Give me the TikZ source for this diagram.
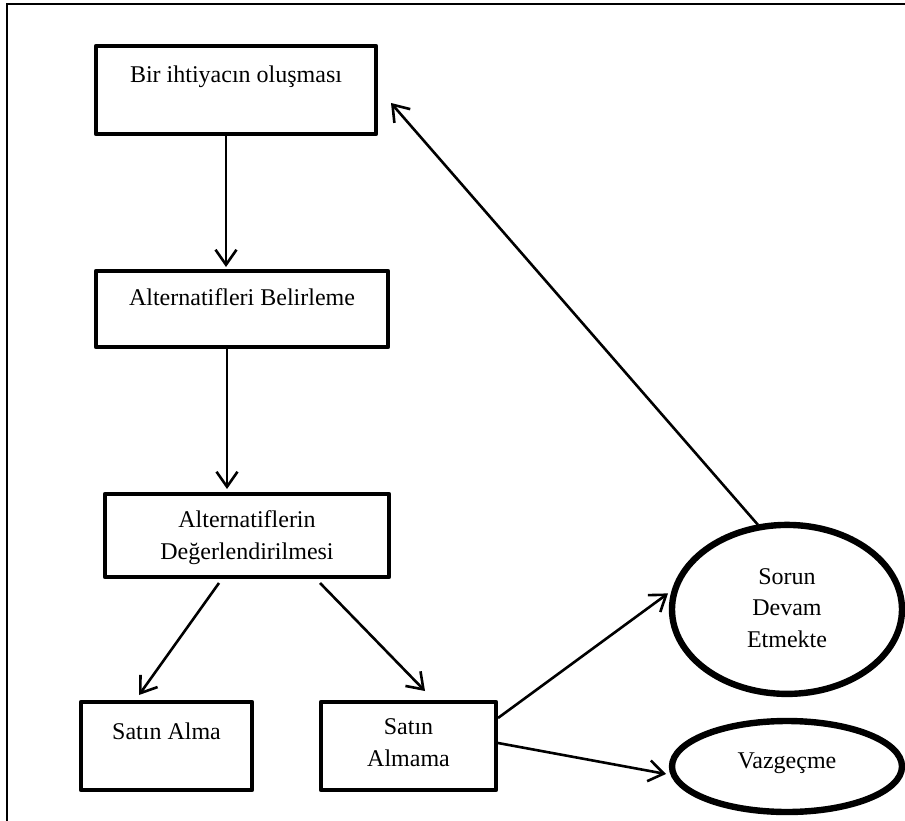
\documentclass[tikz,border=0pt]{standalone}
\usepackage{fontspec}
\setmainfont{Liberation Serif}[Ligatures=NoCommon]
\usetikzlibrary{arrows.meta,shapes.geometric}
\begin{document}
\begin{tikzpicture}[x=1pt,y=-1pt,
  txt/.style={font=\fontsize{24}{31.5}\selectfont, align=center},
  box/.style={txt, draw, line width=4.6pt, inner sep=0pt, outer sep=0pt, line join=round},
  oval/.style={txt, draw, ellipse, line width=6.4pt, inner sep=0pt, outer sep=0pt},
  arr/.style={line width=2.6pt, -{Straight Barb[length=15pt,width=21pt]}}
]
\useasboundingbox (0,0) rectangle (905,821);
% frame
\draw[line width=2.6pt] (7,821) -- (7,4) -- (905,4);
% boxes
\node[box, minimum width=280pt, text height=37pt, text depth=51pt] (b1) at (236,90) {Bir ihtiyacın oluşması};
\node[box, minimum width=292pt, text height=34pt, text depth=42pt] (b2) at (242,309) {Alternatifleri Belirleme};
\node[box, minimum width=284pt, text height=65pt, text depth=18pt] (b3) at (247,535.5) {Alternatiflerin\\Değerlendirilmesi};
\node[box, minimum width=171pt, text height=37pt, text depth=51pt] (b4) at (166.5,746) {Satın Alma};
\node[box, minimum width=175pt, text height=64pt, text depth=24pt] (b5) at (408.5,746) {Satın\\Almama};
% ellipses
\node[oval, minimum width=230pt, minimum height=169pt, text height=85pt, text depth=9.8pt] (s) at (787,609.4) {Sorun\\Devam\\Etmekte};
\node[oval, minimum width=230pt, minimum height=91pt, text height=13pt, text depth=10pt] (v) at (787,766.5) {Vazgeçme};
% connectors
\draw[arr] ([shift={(-10,2)}]b1.south) -- ([shift={(-16,-4)}]b2.north);
\draw[arr] ([shift={(-15,2)}]b2.south) -- ([shift={(-20,-5)}]b3.north);
\draw[arr] ([shift={(114,6)}]b3.south west) -- ([shift={(58,-7)}]b4.north west);
\draw[arr] ([shift={(215,6)}]b3.south west) -- ([shift={(104,-11)}]b5.north west);
\draw[arr] ([shift={(2,16)}]b5.north east) -- ([shift={(-4,-16)}]s.west);
\draw[arr] ([shift={(2,41)}]b5.north east) -- ([shift={(-6,7.5)}]v.west);
\draw[arr] ([shift={(-29,0)}]s.north) -- ([shift={(15,13)}]b1.east);
\end{tikzpicture}
\end{document}
